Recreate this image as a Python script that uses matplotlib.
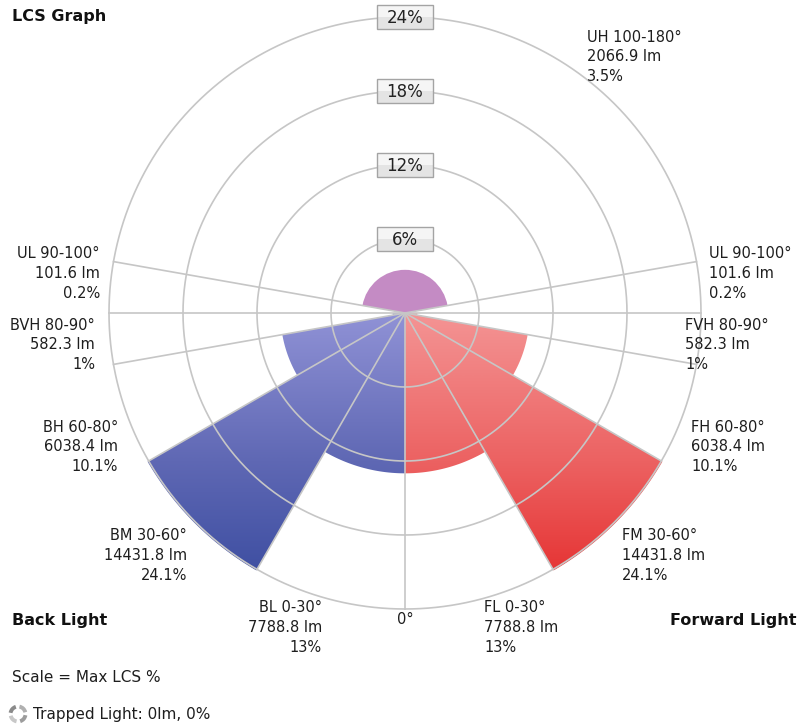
import numpy as np
import matplotlib
matplotlib.use('Agg')
import matplotlib.pyplot as plt
from matplotlib.image import AxesImage
from matplotlib.patches import Arc, Rectangle
from matplotlib.colors import LinearSegmentedColormap
from matplotlib.offsetbox import DrawingArea, AnnotationBbox
from matplotlib.text import Text

W, H = 812, 727

# ---------------- data ----------------
forward_names = ['FL 0-30°', 'FM 30-60°', 'FH 60-80°', 'FVH 80-90°', 'UL 90-100°']
back_names = ['BL 0-30°', 'BM 30-60°', 'BH 60-80°', 'BVH 80-90°', 'UL 90-100°']
zone_start = [0, 30, 60, 80, 90]
zone_end = [30, 60, 80, 90, 100]
zone_lumens = [7788.8, 14431.8, 6038.4, 582.3, 101.6]
zone_pct = [13, 24.1, 10.1, 1, 0.2]
uh_name = 'UH 100-180°'
uh_start, uh_end = 100, 180
uh_lumens = 2066.9
uh_pct = 3.5
ring_values = [6, 12, 18, 24]
spoke_angles = [0, 30, 60, 80, 90, 100]
r_max = 24

# ---------------- style ----------------
grid_col = '#c6c6c6'
text_col = '#1e1e1e'
purple = '#c48bc4'
red_cmap = LinearSegmentedColormap.from_list('red', ['#f49494', '#ec6262', '#e42626'])
blue_cmap = LinearSegmentedColormap.from_list('blue', ['#9092d6', '#5f68b4', '#34479c'])

cx, cy, R = 405, 313, 296

fig = plt.figure(figsize=(W / 100, H / 100), dpi=100)
fig.patch.set_facecolor('white')
fig.suppressComposite = True
ax = fig.add_axes([(cx - R) / W, (H - cy - R) / H, 2 * R / W, 2 * R / H], projection='polar')
ax.set_theta_zero_location('S')
ax.set_theta_direction(1)

grad = np.linspace(0, 1, 256).reshape(-1, 1)

for sign, cmap in [(1, red_cmap), (-1, blue_cmap)]:
    for s, e, p in zip(zone_start, zone_end, zone_pct):
        t0, t1 = np.deg2rad(s) * sign, np.deg2rad(e) * sign
        if s >= 90:
            ax.bar((t0 + t1) / 2, p, width=abs(t1 - t0), bottom=0, color=purple,
                   edgecolor='none', zorder=2)
            continue
        ts = np.linspace(t0, t1, 80)
        poly = ax.fill(np.r_[t0, ts], np.r_[0, np.full_like(ts, p)],
                       facecolor='none', edgecolor='none', zorder=2)[0]
        im = AxesImage(ax, cmap=cmap, origin='upper', interpolation='bilinear',
                       extent=(0, 1, 0, 0.5))
        im.set_transform(ax.transAxes)
        im.set_data(grad)
        im.set_clim(0, 1)
        im.set_clip_path(poly)
        im.set_zorder(1.5)
        ax.add_image(im)

# UH (upper hemisphere 100-180 both sides)
uh_w = np.deg2rad(2 * (uh_end - uh_start))
ax.bar(np.pi, uh_pct, width=uh_w, bottom=0, color=purple, edgecolor='none', zorder=2)

ax.set_ylim(0, r_max)
ax.set_xticks([])
ax.set_yticks([])
ax.grid(False)
ax.spines['polar'].set_visible(False)
ax.patch.set_visible(False)

# rings
th = np.linspace(0, 2 * np.pi, 721)
for r in ring_values:
    ax.plot(th, np.full_like(th, r), color=grid_col, lw=1.2, zorder=3, clip_on=False)
# spokes
for a in spoke_angles:
    for sgn in ([1] if a == 0 else [1, -1]):
        t = np.deg2rad(a) * sgn
        ax.plot([t, t], [0, r_max], color=grid_col, lw=1.2, zorder=3, clip_on=False)

# ring labels
bw, bh = 41, 17
for r in ring_values:
    da = DrawingArea(bw, bh, 0, 0)
    da.add_artist(Rectangle((0, 0), bw, bh, fc='#e4e4e4', ec='none'))
    da.add_artist(Rectangle((0, bh * 0.5), bw, bh * 0.5, fc='#f5f5f5', ec='none'))
    da.add_artist(Rectangle((0, 0), bw, bh, fc='none', ec='#a4a4a4', lw=1))
    da.add_artist(Text(bw / 2, bh / 2 - 0.5, f'{r}%', ha='center', va='center',
                       fontsize=12, color='#222222'))
    ab = AnnotationBbox(da, (np.pi, r), xycoords='data', frameon=False, pad=0,
                        box_alignment=(0.5, 0.5), annotation_clip=False, zorder=5)
    ax.add_artist(ab)


def ftext(x, y, s, **kw):
    kw.setdefault('fontsize', 10.5)
    kw.setdefault('color', text_col)
    kw.setdefault('va', 'center')
    fig.text(x / W, 1 - y / H, s, **kw)


def zone_label(x, y0, name, lm, pct, ha):
    dy = 19.8
    for i, s in enumerate([name, f'{lm} lm', f'{pct}%']):
        ftext(x, y0 + i * dy, s, ha=ha)


# zone labels (positions in pixels)
right_pos = [(484, 608), (622, 536), (691, 427), (685, 325), (709, 254)]
left_pos = [(322, 608), (187, 536), (118, 427), (95, 325), (100, 254)]
for (x, y), n, lm, p in zip(right_pos, forward_names, zone_lumens, zone_pct):
    zone_label(x, y, n, lm, p, 'left')
for (x, y), n, lm, p in zip(left_pos, back_names, zone_lumens, zone_pct):
    zone_label(x, y, n, lm, p, 'right')
zone_label(587, 37, uh_name, uh_lumens, uh_pct, 'left')

ftext(405, 620, '0°', ha='center')

ftext(12, 16, 'LCS Graph', ha='left', fontsize=11.5, fontweight='bold', color='#111111')
ftext(12, 620, 'Back Light', ha='left', fontsize=11.5, fontweight='bold', color='#111111')
ftext(797, 620, 'Forward Light', ha='right', fontsize=11.5, fontweight='bold', color='#111111')
ftext(12, 678, 'Scale = Max LCS %', ha='left', fontsize=11)
ftext(33, 715, 'Trapped Light: 0lm, 0%', ha='left', fontsize=11)

# trapped light icon
icx, icy, ir = 18, 714, 15
for k, c in enumerate(['#b0b0b0', '#8a8a8a', '#c8c8c8', '#9c9c9c']):
    arc = Arc((icx / W, 1 - icy / H), ir / W, ir / H, theta1=k * 90 + 15, theta2=k * 90 + 80,
              transform=fig.transFigure, color=c, lw=2.8)
    fig.add_artist(arc)

fig.savefig('out.png', dpi=100, facecolor='white')
